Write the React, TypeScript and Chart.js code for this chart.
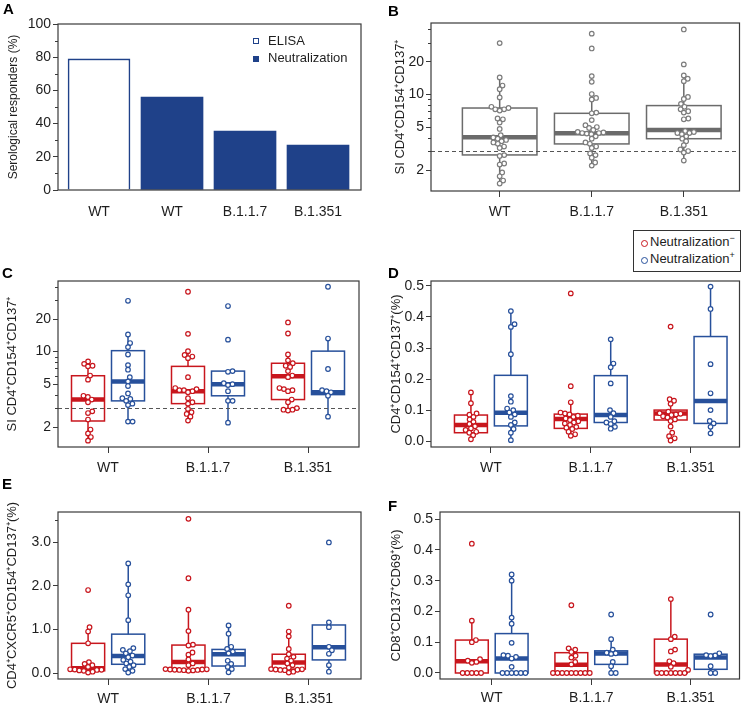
import React, { useEffect, useRef } from 'react';
import { Chart, registerables } from 'chart.js';

Chart.register(...registerables);

const FONT = '"Liberation Sans", Arial, Helvetica, sans-serif';
const RED = '#c8161d';
const BLUE = '#27509b';
const NAVY = '#1f4189';
const GRAY = '#6b6b6b';
const GRAY_PT = '#7c7c7c';
const AXIS = '#3a3a3a';
const TEXT = '#1e1e1e';

// ---------- Panel A ----------
const A_CATEGORIES = ['WT', 'WT', 'B.1.1.7', 'B.1.351'];
const A_ELISA = [79, null, null, null];
const A_NEUTRALIZATION = [null, 56, 35.5, 27];
const A_TICKS = [0, 20, 40, 60, 80, 100];
const A_MINOR = [10, 30, 50, 70, 90];

// ---------- shared ----------
const VARIANTS = ['WT', 'B.1.1.7', 'B.1.351'];
const SI_TICKS = [2, 5, 10, 20];
const SI_MINOR = [3, 4, 6, 7, 8, 9, 30, 40];
const PCT_TICKS = [0, 0.1, 0.2, 0.3, 0.4, 0.5];
const E_TICKS = [0, 1, 2, 3];
const E_MINOR = [3.5];

// ---------- Panel B (all donors) ----------
const B_WT = [29.9, 14.4, 12.1, 11.2, 9.4, 7.7, 7.5, 7.3, 7.3, 7.1, 6.0, 5.9, 5.5, 4.8, 4.2, 4.0, 3.9, 3.8, 3.7, 3.6, 3.5, 3.3, 3.2, 2.75, 2.7, 2.3, 2.25, 1.9, 1.75, 1.6, 1.5];
const B_B117 = [36.6, 26.7, 14.8, 13.1, 10.1, 9.3, 9.0, 6.8, 6.7, 5.8, 5.2, 5.0, 4.9, 4.7, 4.5, 4.45, 4.4, 4.4, 4.35, 4.3, 4.1, 3.9, 3.6, 3.5, 3.3, 3.2, 2.85, 2.75, 2.6, 2.35, 2.2];
const B_B1351 = [40, 19, 15, 14, 13.3, 9.5, 9.1, 8.2, 7.7, 7.3, 7.0, 6.8, 6.0, 5.9, 4.6, 4.5, 4.4, 4.4, 4.3, 4.1, 3.9, 3.7, 3.4, 3.1, 3.0, 2.9, 2.45];
// [whisker low, q1, median, q3, whisker high]
const B_BOX = [[1.5, 2.76, 4.03, 7.5, 14.4], [2.2, 3.49, 4.39, 6.7, 10.1], [2.45, 3.9, 4.7, 7.9, 14.6]];
const THRESHOLD = 3;

// ---------- Panel C ----------
const C_NEG_WT = [8.1, 7.7, 7.4, 7.3, 6.0, 5.5, 3.9, 3.8, 3.6, 3.4, 2.8, 2.7, 2.35, 1.9, 1.75, 1.62, 1.5];
const C_POS_WT = [29.5, 14.4, 12.0, 11.0, 9.4, 7.5, 6.8, 5.8, 5.3, 4.8, 4.1, 3.7, 3.65, 3.5, 3.3, 3.2, 2.25, 2.25];
const C_NEG_B117 = [35.8, 14.6, 10.1, 9.3, 9.0, 8.7, 5.8, 4.6, 4.5, 4.4, 4.4, 4.3, 4.2, 3.7, 3.4, 3.3, 2.95, 2.75, 2.65, 2.5, 2.3];
const C_POS_B117 = [26.4, 12.9, 6.6, 6.5, 5.1, 5.0, 4.9, 4.3, 3.5, 3.5, 2.2];
const C_NEG_B1351 = [18.6, 14.7, 9.4, 8.3, 7.8, 7.4, 7.2, 6.6, 6.0, 5.8, 4.6, 4.5, 4.4, 4.3, 3.6, 3.4, 3.0, 2.9, 2.9, 2.85];
const C_POS_B1351 = [39.8, 13.2, 6.9, 4.4, 4.3, 4.2, 3.9, 2.5];
const C_NEG_BOX = [[1.5, 2.28, 3.6, 5.98, 8.1], [2.3, 3.3, 4.3, 7.3, 10.1], [2.85, 3.6, 5.9, 7.8, 9.4]];
const C_POS_BOX = [[2.25, 3.5, 5.3, 10.2, 14.4], [2.2, 3.9, 5.0, 6.6, 6.6], [2.5, 4.0, 4.2, 10.1, 13.2]];

// ---------- Panel D ----------
const D_NEG_WT = [0.157, 0.122, 0.089, 0.085, 0.078, 0.07, 0.062, 0.055, 0.048, 0.041, 0.036, 0.03, 0.027, 0.019, 0.006];
const D_POS_WT = [0.419, 0.377, 0.368, 0.28, 0.145, 0.127, 0.105, 0.1, 0.092, 0.086, 0.078, 0.06, 0.052, 0.039, 0.027, 0.003];
const D_NEG_B117 = [0.476, 0.177, 0.125, 0.092, 0.089, 0.086, 0.082, 0.078, 0.073, 0.068, 0.064, 0.06, 0.057, 0.052, 0.046, 0.043, 0.039, 0.03, 0.022, 0.017];
const D_POS_B117 = [0.328, 0.25, 0.238, 0.186, 0.1, 0.09, 0.078, 0.064, 0.06, 0.055, 0.046, 0.04];
const D_NEG_B1351 = [0.369, 0.135, 0.13, 0.12, 0.095, 0.09, 0.088, 0.086, 0.084, 0.08, 0.076, 0.07, 0.065, 0.047, 0.027, 0.016, 0.009, 0.002];
const D_POS_B1351 = [0.498, 0.426, 0.248, 0.154, 0.1, 0.065, 0.057, 0.046, 0.025];
const D_NEG_BOX = [[0.006, 0.027, 0.052, 0.084, 0.157], [0.017, 0.041, 0.071, 0.087, 0.125], [0.047, 0.068, 0.089, 0.1, 0.135]];
const D_POS_BOX = [[0.003, 0.049, 0.091, 0.212, 0.419], [0.04, 0.06, 0.084, 0.211, 0.328], [0.025, 0.057, 0.129, 0.337, 0.498]];

// ---------- Panel E ----------
const E_NEG_WT = [1.9, 1.05, 0.95, 0.68, 0.25, 0.21, 0.18, 0.14, 0.085, 0.08, 0.075, 0.07, 0.06, 0.05, 0.03, 0.01];
const E_POS_WT = [2.51, 2.03, 1.78, 1.21, 0.57, 0.53, 0.5, 0.45, 0.4, 0.36, 0.3, 0.26, 0.22, 0.18, 0.14, 0.09, 0.05, 0.01];
const E_NEG_B117 = [3.53, 2.17, 1.45, 0.96, 0.65, 0.63, 0.47, 0.42, 0.31, 0.22, 0.18, 0.09, 0.085, 0.08, 0.08, 0.075, 0.07, 0.07, 0.065, 0.06, 0.05];
const E_POS_B117 = [1.09, 0.9, 0.6, 0.55, 0.49, 0.45, 0.28, 0.21, 0.14, 0.09, 0.015];
const E_NEG_B1351 = [1.54, 0.95, 0.84, 0.55, 0.43, 0.37, 0.33, 0.28, 0.22, 0.18, 0.12, 0.09, 0.085, 0.08, 0.075, 0.07, 0.065, 0.03, 0.01];
const E_POS_B1351 = [2.99, 1.16, 1.05, 0.6, 0.52, 0.44, 0.18, 0.03];
const E_NEG_BOX = [[0.01, 0.05, 0.11, 0.68, 1.05], [0.05, 0.07, 0.25, 0.64, 1.45], [0.01, 0.09, 0.24, 0.43, 0.95]];
const E_POS_BOX = [[0.01, 0.2, 0.39, 0.89, 2.51], [0.015, 0.16, 0.43, 0.54, 1.09], [0.03, 0.3, 0.59, 1.1, 1.16]];

// ---------- Panel F ----------
const F_NEG_WT = [0.42, 0.17, 0.107, 0.1, 0.045, 0.04, 0.036, 0.033, 0, 0, 0, 0, 0];
const F_POS_WT = [0.32, 0.3, 0.18, 0.16, 0.098, 0.058, 0.056, 0.052, 0.047, 0.02, 0, 0, 0, 0, 0, 0];
const F_NEG_B117 = [0.22, 0.08, 0.076, 0.068, 0.056, 0.05, 0.036, 0.028, 0, 0, 0, 0, 0, 0, 0, 0, 0];
const F_POS_B117 = [0.19, 0.11, 0.076, 0.066, 0.064, 0.062, 0.036, 0.022, 0, 0];
const F_NEG_B1351 = [0.24, 0.118, 0.11, 0.076, 0.07, 0.038, 0.032, 0.02, 0.01, 0, 0, 0, 0, 0, 0, 0];
const F_POS_B1351 = [0.19, 0.064, 0.058, 0.057, 0.055, 0.022, 0, 0];
const F_NEG_BOX = [[0, 0, 0.038, 0.107, 0.17], [0, 0, 0.027, 0.066, 0.08], [0, 0, 0.028, 0.11, 0.24]];
const F_POS_BOX = [[0, 0, 0.047, 0.128, 0.32], [0, 0.028, 0.063, 0.072, 0.11], [0, 0.012, 0.05, 0.061, 0.061]];

// ---------- plugin: boxes, threshold, beeswarm, frame ----------
const decoPlugin: any = {
  id: 'deco',
  beforeDatasetsDraw(chart: any, _a: any, o: any) {
    const ctx = chart.ctx;
    const xs = chart.scales.x;
    const ys = chart.scales.y;
    const { left, right } = chart.chartArea;
    ctx.save();
    (o.boxes || []).forEach((b: any) => {
      b.stats.forEach((st: number[], ci: number) => {
        const [lo, q1, med, q3, hi] = st;
        const xc = xs.getPixelForValue(ci + 1 + b.offset);
        const hw = xs.getPixelForValue(ci + 1 + b.offset + b.width / 2) - xc;
        const yLo = ys.getPixelForValue(lo);
        const yQ1 = ys.getPixelForValue(q1);
        const yMed = ys.getPixelForValue(med);
        const yQ3 = ys.getPixelForValue(q3);
        const yHi = ys.getPixelForValue(hi);
        ctx.strokeStyle = b.color;
        ctx.lineWidth = 1.5;
        ctx.beginPath();
        ctx.moveTo(xc, yQ3);
        ctx.lineTo(xc, yHi);
        ctx.moveTo(xc, yQ1);
        ctx.lineTo(xc, yLo);
        ctx.stroke();
        ctx.strokeRect(xc - hw, yQ3, 2 * hw, yQ1 - yQ3);
        ctx.lineWidth = 4.5;
        ctx.lineCap = 'butt';
        ctx.beginPath();
        ctx.moveTo(xc - hw, yMed);
        ctx.lineTo(xc + hw, yMed);
        ctx.stroke();
      });
    });
    if (o.threshold != null) {
      const y = Math.round(ys.getPixelForValue(o.threshold)) + 0.5;
      ctx.strokeStyle = '#555';
      ctx.lineWidth = 1;
      ctx.setLineDash([4, 3]);
      ctx.beginPath();
      ctx.moveTo(left, y);
      ctx.lineTo(right, y);
      ctx.stroke();
      ctx.setLineDash([]);
    }
    ctx.restore();

    // beeswarm layout in pixel space
    if (o.swarm) {
      const D = o.swarm;
      chart.data.datasets.forEach((ds: any, di: number) => {
        const meta = chart.getDatasetMeta(di);
        const groups = new Map<number, any[]>();
        meta.data.forEach((el: any, i: number) => {
          const p = ds.data[i];
          const arr = groups.get(p.x) || [];
          arr.push({ el, y: el.y, bx: xs.getPixelForValue(p.x) });
          groups.set(p.x, arr);
        });
        groups.forEach((arr) => {
          const sorted = arr.slice().sort((a, b) => b.y - a.y);
          const placed: { x: number; y: number }[] = [];
          sorted.forEach((pt) => {
            const cands = [0];
            placed.forEach((q) => {
              const dy = pt.y - q.y;
              if (Math.abs(dy) < D) {
                const dx = Math.sqrt(D * D - dy * dy);
                cands.push(q.x + dx, q.x - dx);
              }
            });
            cands.sort((a, b) => Math.abs(a) - Math.abs(b));
            let off = 0;
            for (const c of cands) {
              if (placed.every((q) => (c - q.x) ** 2 + (pt.y - q.y) ** 2 >= D * D - 0.01)) {
                off = c;
                break;
              }
            }
            placed.push({ x: off, y: pt.y });
            pt.el.x = pt.bx + off;
          });
        });
      });
    }
  },
  afterDraw(chart: any, _a: any, o: any) {
    const ctx = chart.ctx;
    const { left, right, top, bottom } = chart.chartArea;
    const ys = chart.scales.y;
    ctx.save();
    ctx.strokeStyle = AXIS;
    ctx.lineWidth = 1.2;
    ctx.strokeRect(left, top, right - left, bottom - top);
    ctx.lineWidth = 1;
    (o.minor || []).forEach((v: number) => {
      const y = Math.round(ys.getPixelForValue(v)) + 0.5;
      ctx.beginPath();
      ctx.moveTo(left - (o.minorLen || 3), y);
      ctx.lineTo(left, y);
      ctx.stroke();
    });
    ctx.restore();
  },
};

type Spec = {
  w: number; h: number; area: number[];
  xRange: number[]; xLabelPad: number;
  yType: string; yRange: number[]; yTicks: number[]; yMinor: number[]; yDigits: number;
  title: string; titleSize: number; titlePad: number;
  series: { values: number[][]; color: string; offset: number }[];
  boxes: { stats: number[][]; color: string; offset: number; width: number }[];
  threshold?: number;
};

function yScale(s: Spec) {
  return {
    type: s.yType,
    min: s.yRange[0],
    max: s.yRange[1],
    afterFit: (sc: any) => { sc.width = s.area[0]; },
    afterBuildTicks: (sc: any) => { sc.ticks = s.yTicks.map((v) => ({ value: v })); },
    ticks: {
      callback: (v: any) => Number(v).toFixed(s.yDigits),
      font: { family: FONT, size: 14 },
      color: TEXT,
      padding: 2,
      autoSkip: false,
    },
    grid: { drawOnChartArea: false, drawTicks: true, tickLength: 5, color: AXIS, lineWidth: 1 },
    border: { display: false },
    title: {
      display: true,
      text: s.title,
      font: { family: FONT, size: s.titleSize },
      color: TEXT,
      padding: { top: s.titlePad, bottom: 0 },
    },
  };
}

function buildBoxChart(canvas: HTMLCanvasElement, s: Spec) {
  const datasets = s.series.map((se) => ({
    type: 'scatter',
    data: se.values.flatMap((arr, ci) => arr.map((v) => ({ x: ci + 1 + se.offset, y: v }))),
    pointRadius: 2.3,
    pointHoverRadius: 2.3,
    pointBorderWidth: 1.2,
    pointBackgroundColor: '#ffffff',
    pointBorderColor: se.color,
    clip: 8,
  }));
  return new Chart(canvas, {
    type: 'scatter',
    data: { datasets } as any,
    options: {
      animation: false,
      responsive: false,
      devicePixelRatio: 1,
      events: [],
      layout: { padding: { left: 0, top: s.area[1], right: s.w - s.area[2], bottom: 0 } },
      plugins: {
        legend: { display: false },
        tooltip: { enabled: false },
        deco: { boxes: s.boxes, threshold: s.threshold, swarm: 4.6, minor: s.yMinor, minorLen: 3 },
      } as any,
      scales: {
        x: {
          type: 'linear',
          min: s.xRange[0],
          max: s.xRange[1],
          offset: false,
          afterFit: (sc: any) => { sc.height = s.h - s.area[3]; },
          afterBuildTicks: (sc: any) => { sc.ticks = VARIANTS.map((_, i) => ({ value: i + 1 })); },
          ticks: {
            callback: (v: any) => VARIANTS[Math.round(Number(v)) - 1],
            font: { family: FONT, size: 14 },
            color: TEXT,
            padding: s.xLabelPad,
            maxRotation: 0,
            autoSkip: false,
          },
          grid: { drawOnChartArea: false, drawTicks: true, tickLength: 6, color: AXIS, lineWidth: 1 },
          border: { display: false },
        },
        y: yScale(s) as any,
      },
    },
    plugins: [decoPlugin],
  });
}

function buildA(canvas: HTMLCanvasElement) {
  const w = 372, h = 235, area = [58, 24, 361, 190];
  const pts = (arr: (number | null)[]) =>
    arr.map((v, i) => (v == null ? null : { x: i + 1, y: v })).filter((p) => p !== null);
  return new Chart(canvas, {
    type: 'bar',
    data: {
      datasets: [
        { label: 'ELISA', data: pts(A_ELISA), backgroundColor: '#ffffff', borderColor: NAVY, borderWidth: 1.6, barThickness: 62, grouped: false, borderSkipped: 'bottom' },
        { label: 'Neutralization', data: pts(A_NEUTRALIZATION), backgroundColor: NAVY, borderWidth: 0, barThickness: 62, grouped: false },
      ],
    } as any,
    options: {
      animation: false,
      responsive: false,
      devicePixelRatio: 1,
      events: [],
      layout: { padding: { left: 0, top: area[1], right: w - area[2], bottom: 0 } },
      plugins: {
        legend: { display: false },
        tooltip: { enabled: false },
        deco: { minor: A_MINOR, minorLen: 3 },
      } as any,
      scales: {
        x: {
          type: 'linear',
          min: 0.438,
          max: 4.589,
          offset: false,
          afterFit: (sc: any) => { sc.height = h - area[3]; },
          afterBuildTicks: (sc: any) => { sc.ticks = A_CATEGORIES.map((_, i) => ({ value: i + 1 })); },
          ticks: {
            callback: (v: any) => A_CATEGORIES[Math.round(Number(v)) - 1],
            font: { family: FONT, size: 14 },
            color: TEXT,
            padding: 14,
            maxRotation: 0,
            autoSkip: false,
          },
          grid: { display: false, drawTicks: false },
          border: { display: false },
        },
        y: yScale({
          w, h, area, xRange: [0, 1], xLabelPad: 0,
          yType: 'linear', yRange: [0, 100], yTicks: A_TICKS, yMinor: A_MINOR, yDigits: 0,
          title: 'Serological responders (%)', titleSize: 12, titlePad: 6,
          series: [], boxes: [],
        }) as any,
      },
    },
    plugins: [decoPlugin],
  });
}

const SPEC_B: Spec = {
  w: 371, h: 235, area: [59, 23, 369, 191], xRange: [0.254, 3.605], xLabelPad: 7,
  yType: 'logarithmic', yRange: [1.28, 45.9], yTicks: SI_TICKS, yMinor: SI_MINOR, yDigits: 0,
  title: 'SI CD4⁺CD154⁺CD137⁺', titleSize: 13, titlePad: 21,
  series: [{ values: [B_WT, B_B117, B_B1351], color: GRAY_PT, offset: 0 }],
  boxes: [{ stats: B_BOX, color: GRAY, offset: 0, width: 0.81 }],
  threshold: THRESHOLD,
};

const SPEC_C: Spec = {
  w: 372, h: 230, area: [58, 31, 359, 197], xRange: [0.5, 3.51], xLabelPad: 7,
  yType: 'logarithmic', yRange: [1.31, 45.0], yTicks: SI_TICKS, yMinor: SI_MINOR, yDigits: 0,
  title: 'SI CD4⁺CD154⁺CD137⁺', titleSize: 13, titlePad: 5,
  series: [
    { values: [C_NEG_WT, C_NEG_B117, C_NEG_B1351], color: RED, offset: -0.2 },
    { values: [C_POS_WT, C_POS_B117, C_POS_B1351], color: BLUE, offset: 0.2 },
  ],
  boxes: [
    { stats: C_NEG_BOX, color: RED, offset: -0.2, width: 0.33 },
    { stats: C_POS_BOX, color: BLUE, offset: 0.2, width: 0.33 },
  ],
  threshold: THRESHOLD,
};

const SPEC_D: Spec = {
  w: 371, h: 230, area: [59, 31, 368, 197], xRange: [0.4, 3.49], xLabelPad: 7,
  yType: 'linear', yRange: [-0.019, 0.516], yTicks: PCT_TICKS, yMinor: [], yDigits: 1,
  title: 'CD4⁺CD154⁺CD137⁺(%)', titleSize: 13, titlePad: 17,
  series: [
    { values: [D_NEG_WT, D_NEG_B117, D_NEG_B1351], color: RED, offset: -0.2 },
    { values: [D_POS_WT, D_POS_B117, D_POS_B1351], color: BLUE, offset: 0.2 },
  ],
  boxes: [
    { stats: D_NEG_BOX, color: RED, offset: -0.2, width: 0.33 },
    { stats: D_POS_BOX, color: BLUE, offset: 0.2, width: 0.33 },
  ],
};

const SPEC_E: Spec = {
  w: 372, h: 229, area: [58, 32, 361, 199], xRange: [0.5, 3.52], xLabelPad: 6,
  yType: 'linear', yRange: [-0.137, 3.687], yTicks: E_TICKS, yMinor: E_MINOR, yDigits: 1,
  title: 'CD4⁺CXCR5⁺CD154⁺CD137⁺(%)', titleSize: 13, titlePad: 5,
  series: [
    { values: [E_NEG_WT, E_NEG_B117, E_NEG_B1351], color: RED, offset: -0.2 },
    { values: [E_POS_WT, E_POS_B117, E_POS_B1351], color: BLUE, offset: 0.2 },
  ],
  boxes: [
    { stats: E_NEG_BOX, color: RED, offset: -0.2, width: 0.33 },
    { stats: E_POS_BOX, color: BLUE, offset: 0.2, width: 0.33 },
  ],
};

const SPEC_F: Spec = {
  w: 371, h: 229, area: [68, 32, 368, 199], xRange: [0.48, 3.49], xLabelPad: 5,
  yType: 'linear', yRange: [-0.0195, 0.523], yTicks: PCT_TICKS, yMinor: [], yDigits: 1,
  title: 'CD8⁺CD137⁺CD69⁺(%)', titleSize: 13, titlePad: 17,
  series: [
    { values: [F_NEG_WT, F_NEG_B117, F_NEG_B1351], color: RED, offset: -0.2 },
    { values: [F_POS_WT, F_POS_B117, F_POS_B1351], color: BLUE, offset: 0.2 },
  ],
  boxes: [
    { stats: F_NEG_BOX, color: RED, offset: -0.2, width: 0.33 },
    { stats: F_POS_BOX, color: BLUE, offset: 0.2, width: 0.33 },
  ],
};

const LAYOUT = [
  { key: 'A', left: 0, top: 0, w: 372, h: 235 },
  { key: 'B', left: 372, top: 0, w: 371, h: 235 },
  { key: 'C', left: 0, top: 250, w: 372, h: 230 },
  { key: 'D', left: 372, top: 250, w: 371, h: 230 },
  { key: 'E', left: 0, top: 480, w: 372, h: 229 },
  { key: 'F', left: 372, top: 480, w: 371, h: 229 },
];

const LETTERS = [
  { t: 'A', left: 3, top: 1 },
  { t: 'B', left: 388, top: 3 },
  { t: 'C', left: 2, top: 265 },
  { t: 'D', left: 388, top: 265 },
  { t: 'E', left: 2, top: 476 },
  { t: 'F', left: 388, top: 498 },
];

export default function App() {
  const refs = [useRef<HTMLCanvasElement>(null), useRef<HTMLCanvasElement>(null), useRef<HTMLCanvasElement>(null),
    useRef<HTMLCanvasElement>(null), useRef<HTMLCanvasElement>(null), useRef<HTMLCanvasElement>(null)];

  useEffect(() => {
    const charts = [
      buildA(refs[0].current!),
      buildBoxChart(refs[1].current!, SPEC_B),
      buildBoxChart(refs[2].current!, SPEC_C),
      buildBoxChart(refs[3].current!, SPEC_D),
      buildBoxChart(refs[4].current!, SPEC_E),
      buildBoxChart(refs[5].current!, SPEC_F),
    ];
    return () => charts.forEach((c) => c.destroy());
  }, []);

  const txt: React.CSSProperties = { position: 'absolute', fontFamily: FONT, color: TEXT, whiteSpace: 'nowrap' };

  return (
    <div style={{ position: 'absolute', left: 0, top: 0, width: 743, height: 709, background: '#fff', overflow: 'hidden' }}>
      {LAYOUT.map((p, i) => (
        <div key={p.key} style={{ position: 'absolute', left: p.left, top: p.top, width: p.w, height: p.h }}>
          <canvas ref={refs[i]} width={p.w} height={p.h} style={{ display: 'block', width: p.w, height: p.h }} />
        </div>
      ))}
      {LETTERS.map((l) => (
        <div key={l.t} style={{ ...txt, left: l.left, top: l.top, fontSize: 15, lineHeight: '15px', fontWeight: 'bold', color: '#000' }}>{l.t}</div>
      ))}
      {/* Panel A legend */}
      <div style={{ position: 'absolute', left: 253, top: 38, width: 6, height: 6, boxSizing: 'border-box', border: `1.5px solid ${NAVY}`, background: '#fff' }} />
      <div style={{ ...txt, left: 268, top: 33, fontSize: 13, lineHeight: '15px' }}>ELISA</div>
      <div style={{ position: 'absolute', left: 253, top: 56, width: 6, height: 6, background: NAVY }} />
      <div style={{ ...txt, left: 268, top: 50, fontSize: 13, lineHeight: '15px' }}>Neutralization</div>
      {/* Panel C/D legend */}
      <div style={{ position: 'absolute', left: 633, top: 230, width: 108, height: 42, boxSizing: 'border-box', border: '1px solid #333', background: '#fff' }}>
        <div style={{ position: 'absolute', left: 7, top: 9, width: 5, height: 5, borderRadius: '50%', border: `1.2px solid ${RED}` }} />
        <div style={{ ...txt, left: 16, top: 3, fontSize: 13, lineHeight: '15px' }}>Neutralization<sup style={{ fontSize: 9, lineHeight: 0 }}>−</sup></div>
        <div style={{ position: 'absolute', left: 7, top: 26, width: 5, height: 5, borderRadius: '50%', border: `1.2px solid ${BLUE}` }} />
        <div style={{ ...txt, left: 16, top: 20, fontSize: 13, lineHeight: '15px' }}>Neutralization<sup style={{ fontSize: 9, lineHeight: 0 }}>+</sup></div>
      </div>
    </div>
  );
}
